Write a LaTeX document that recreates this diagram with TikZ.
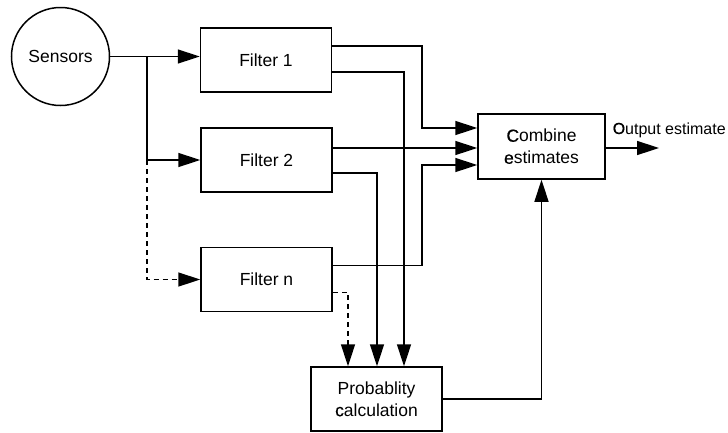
\documentclass[tikz,border=0pt]{standalone}
\usepackage{fontspec}
\setmainfont{Liberation Sans}
\newfontfamily\heavyish[FakeBold=0.6]{Liberation Sans}
\newcommand{\hv}[1]{{\heavyish #1}}
\usetikzlibrary{arrows.meta}
\begin{document}
\begin{tikzpicture}[x=1pt, y=-1pt, line width=1.5pt,
  txt/.style={font=\fontsize{17.5}{22}\selectfont},
  block/.style={draw, rectangle, txt, align=center, inner sep=0pt,
    minimum width=131pt, minimum height=64pt},
  arr/.style={-{Triangle[length=22pt, width=14pt]}},
  dsh/.style={dash pattern=on 5pt off 4pt}]
\useasboundingbox (0,0) rectangle (728,432);

% blocks
\node[draw, circle, txt, minimum size=98pt, inner sep=0pt] (sens) at (60.5,56.5) {Sensors};
\node[block] (f1) at (266,60) {Filter 1};
\node[block] (f2) at (266.5,160) {Filter 2};
\node[block] (fn) at (266.5,279.5) {Filter n};
\node[block] (pc) at (376.5,399) {Probablity\\\hv{c}alculation};
\node[block, minimum width=127pt, minimum height=65pt] (ce) at (541.5,146.5) {\hv{C}ombine\\\hv{e}stimates};

% split point and routing columns
\coordinate (sp) at (147,56.5);
\coordinate (col) at (422,0);

% ports
\coordinate (f1a) at ([yshift=14pt]f1.east);
\coordinate (f1b) at ([yshift=-12pt]f1.east);
\coordinate (f2a) at ([yshift=12pt]f2.east);
\coordinate (f2b) at ([yshift=-13pt]f2.east);
\coordinate (fna) at ([yshift=14pt]fn.east);
\coordinate (fnb) at ([yshift=-13pt]fn.east);
\coordinate (ce1) at ([yshift=18.5pt]ce.west);
\coordinate (ce3) at ([yshift=-18.5pt]ce.west);
\coordinate (pc1) at ([xshift=-28.5pt]pc.north);
\coordinate (pc2) at ([xshift=0.5pt]pc.north);
\coordinate (pc3) at ([xshift=27.5pt]pc.north);

% sensors to filters
\draw[arr] (sens.east) -- (f1.west |- sens.east);
\draw[arr] (sp) |- (f2.west);
\draw[arr, dsh] (sp |- f2.west) |- (fn.west);

% filters to combiner
\draw[arr] (f1a) -| (col |- ce1) -- (ce1);
\draw[arr] (f2a) -- (ce.west |- f2a);
\draw[arr] (fna) -| (col |- ce3) -- (ce3);

% filters to probability calculation
\draw[arr] (f1b) -| (pc3);
\draw[arr] (f2b) -| (pc2);
\draw[arr, dsh] (fnb) -| (pc1);

% probability to combiner, output
\draw[arr] (pc.east) -| (ce.south);
\coordinate (out) at (659,148);
\draw[arr] (ce.east |- out) -- (out);
\node[font=\fontsize{16}{20}\selectfont, anchor=base west, inner sep=0pt] (outlbl) at (612,134) {\hv{O}utput estimate};
\end{tikzpicture}
\end{document}
